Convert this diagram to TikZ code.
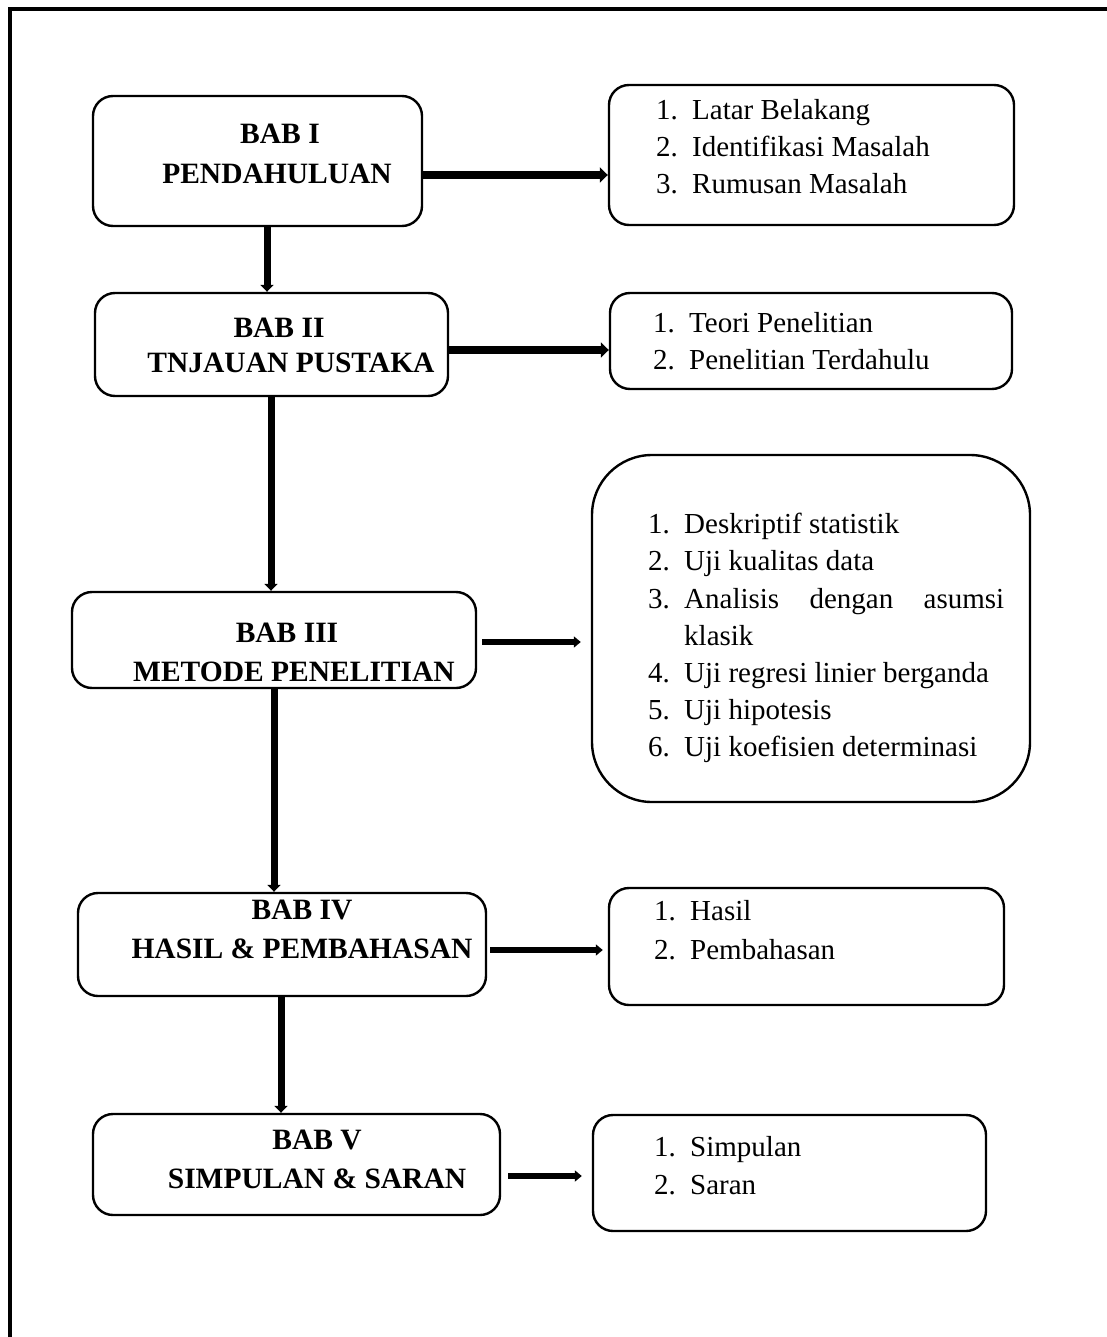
\documentclass[tikz,border=0pt]{standalone}
\usepackage{fontspec}
\setmainfont{Liberation Serif}
\usetikzlibrary{arrows.meta}
\newcommand\myitem[2]{\makebox[36pt][l]{#1}#2}
\begin{document}
\begin{tikzpicture}[x=1pt,y=-1pt,
  box/.style={draw, line width=2.4pt, rounded corners=20pt, inner sep=0pt},
  bt/.style={font=\fontsize{29.5}{35}\selectfont\bfseries, anchor=base, inner sep=0pt},
  it/.style={font=\fontsize{29}{35}\selectfont, anchor=base west, inner sep=0pt},
  harr/.style={line width=8pt, -{Triangle[length=8pt,width=15pt]}},
  varr/.style={line width=7pt, -{Triangle[length=7pt,width=13pt]}},
  sarr/.style={line width=5.5pt, -{Triangle[length=7pt,width=11pt]}},
]
\useasboundingbox (0,0) rectangle (1107,1337);
% outer frame (open at right and bottom)
\draw[line width=4pt] (9.5,1337) -- (9.5,9) -- (1107,9);

% left boxes
\node[box, minimum width=329pt, minimum height=130pt] (b1) at (257.5,161) {};
\node[box, minimum width=353pt, minimum height=103pt] (b2) at (271.5,344.5) {};
\node[box, minimum width=404pt, minimum height=96pt]  (b3) at (274,640) {};
\node[box, minimum width=408pt, minimum height=103pt] (b4) at (282,944.5) {};
\node[box, minimum width=407pt, minimum height=101pt] (b5) at (296.5,1164.5) {};

% right boxes
\node[box, minimum width=405pt, minimum height=140pt] (r1) at (811.5,155) {};
\node[box, minimum width=402pt, minimum height=96pt]  (r2) at (811,341) {};
\node[box, rounded corners=60pt, minimum width=438pt, minimum height=347pt] (r3) at (811,628.5) {};
\node[box, minimum width=395pt, minimum height=117pt] (r4) at (806.5,946.5) {};
\node[box, minimum width=393pt, minimum height=116pt] (r5) at (789.5,1173) {};

% left texts
\node[bt] (t1a) at (280,144) {BAB I};
\node[bt] (t1b) at (277,184) {PENDAHULUAN};
\node[bt] (t2a) at (279,337) {BAB II};
\node[bt] (t2b) at (291,372) {TNJAUAN PUSTAKA};
\node[bt] (t3a) at (287,642) {BAB III};
\node[bt] (t3b) at (294,681) {METODE PENELITIAN};
\node[bt] (t4a) at (302,919) {BAB IV};
\node[bt] (t4b) at (302,958) {HASIL \& PEMBAHASAN};
\node[bt] (t5a) at (317,1149) {BAB V};
\node[bt] (t5b) at (317,1188) {SIMPULAN \& SARAN};

% right texts
\node[it] (s1a) at (656,120) {\myitem{1.}{Latar Belakang}};
\node[it] (s1b) at (656,157) {\myitem{2.}{Identifikasi Masalah}};
\node[it] (s1c) at (656,194) {\myitem{3.}{Rumusan Masalah}};

\node[it] (s2a) at (653,332) {\myitem{1.}{Teori Penelitian}};
\node[it] (s2b) at (653,369) {\myitem{2.}{Penelitian Terdahulu}};

\node[it] (s3a) at (648,533) {\myitem{1.}{Deskriptif statistik}};
\node[it] (s3b) at (648,570) {\myitem{2.}{Uji kualitas data}};
\node[it] (s3c) at (648,608) {\myitem{3.}{\makebox[320pt][s]{Analisis dengan asumsi}}};
\node[it] (s3d) at (684,645) {klasik};
\node[it] (s3e) at (648,682) {\myitem{4.}{Uji regresi linier berganda}};
\node[it] (s3f) at (648,719) {\myitem{5.}{Uji hipotesis}};
\node[it] (s3g) at (648,756) {\myitem{6.}{Uji koefisien determinasi}};

\node[it] (s4a) at (654,920) {\myitem{1.}{Hasil}};
\node[it] (s4b) at (654,959) {\myitem{2.}{Pembahasan}};

\node[it] (s5a) at (654,1156) {\myitem{1.}{Simpulan}};
\node[it] (s5b) at (654,1194) {\myitem{2.}{Saran}};

% horizontal arrows
\draw[harr] ([yshift=-14pt]b1.east) -- ([yshift=-14pt]b1.east -| r1.west);
\draw[harr] ([yshift=-5.5pt]b2.east) -- ([yshift=-5.5pt]b2.east -| r2.west);
\draw[sarr, shorten <=5pt, shorten >=10pt] ([yshift=-2pt]b3.east) -- ([yshift=-2pt]b3.east -| r3.west);
\draw[sarr, line width=6pt, shorten <=3pt, shorten >=5pt] ([yshift=-5.5pt]b4.east) -- ([yshift=-5.5pt]b4.east -| r4.west);
\draw[sarr, line width=6pt, shorten <=7pt, shorten >=10pt] ([yshift=-11.5pt]b5.east) -- ([yshift=-11.5pt]b5.east -| r5.west);

% vertical arrows
\draw[varr] ([xshift=9.5pt]b1.south) -- ([xshift=9.5pt]b1.south |- b2.north);
\draw[varr] ([xshift=-0.5pt]b2.south) -- ([xshift=-0.5pt]b2.south |- b3.north);
\draw[varr] (b3.south) -- (b3.south |- b4.north);
\draw[varr] ([xshift=-1pt]b4.south) -- ([xshift=-1pt]b4.south |- b5.north);
\end{tikzpicture}
\end{document}
